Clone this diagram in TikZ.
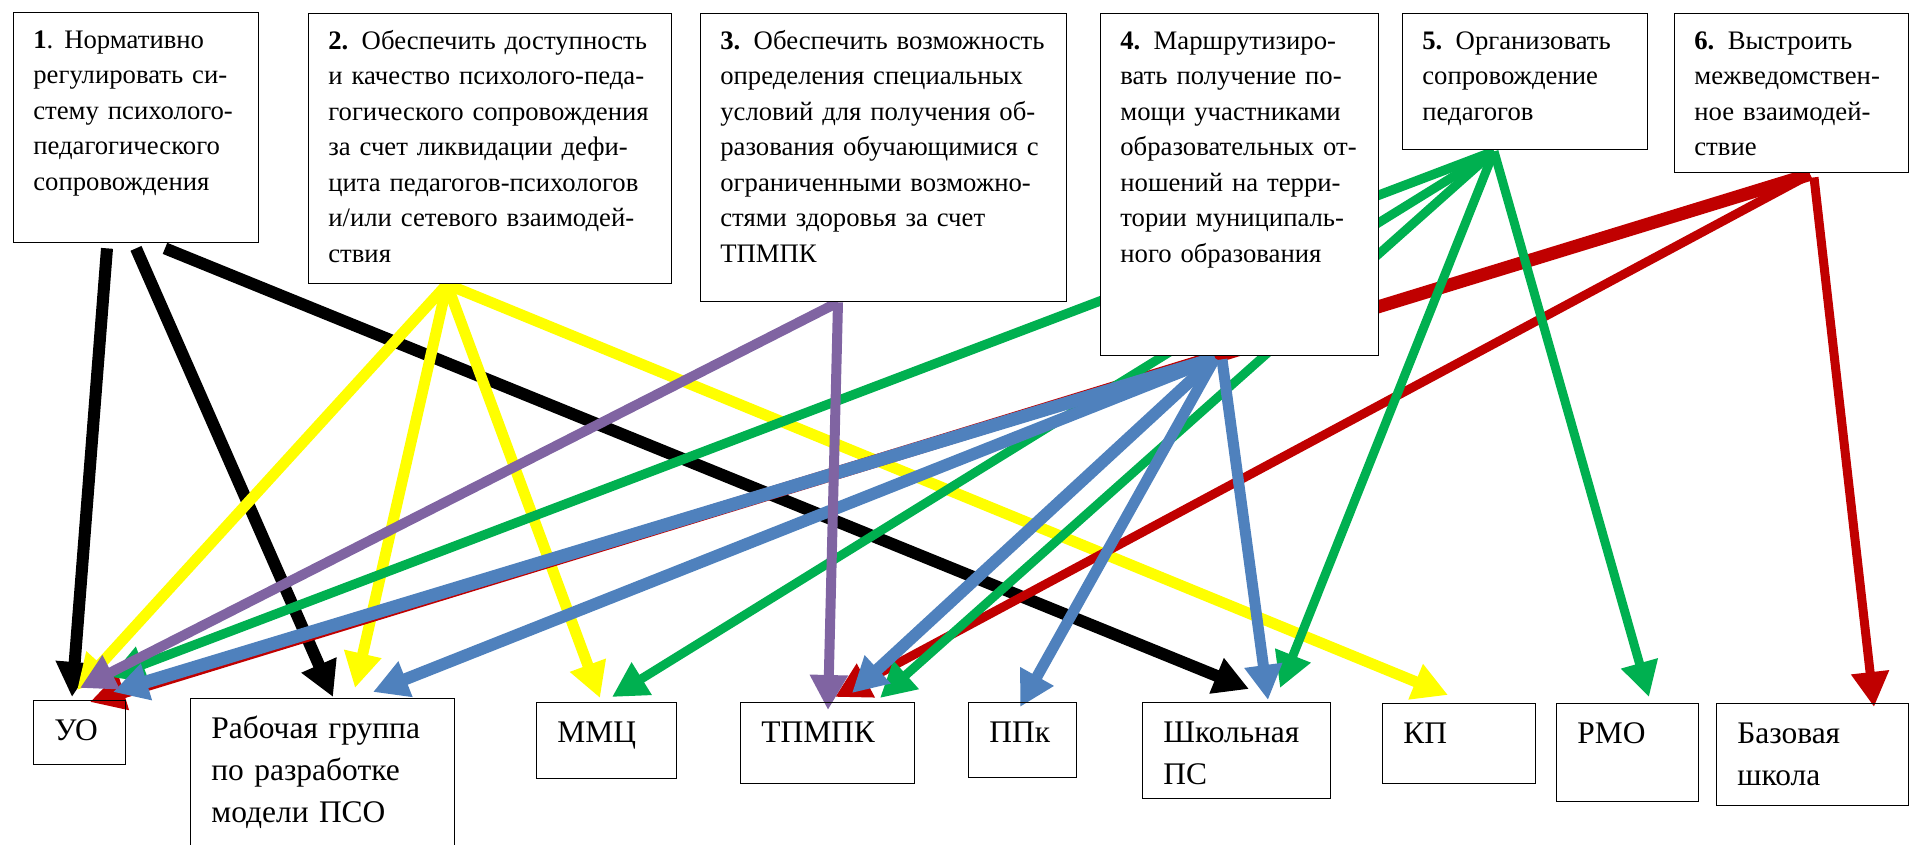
\documentclass[tikz,border=0pt]{standalone}
\usepackage{fontspec}
\setmainfont{Liberation Serif}
\usetikzlibrary{arrows.meta, calc, backgrounds}

\definecolor{arrYellow}{HTML}{FFFF00}
\definecolor{arrPurple}{HTML}{8064A2}
\definecolor{arrGreen}{HTML}{00B050}
\definecolor{arrRed}{HTML}{C00000}
\definecolor{arrBlue}{HTML}{4F81BD}

\newcommand{\goalfont}{\fontsize{15.2}{20.2}\selectfont}
\newcommand{\unitfont}{\fontsize{17.9}{23.9}\selectfont}

\tikzset{
  frame/.style={draw, line width=0.8pt, anchor=north west, inner sep=0pt},
  goal/.style={frame, fill=white},
  goaltext/.style={anchor=north west, align=left, text width=8cm, inner xsep=0.4cm,
    inner ysep=0pt, font=\goalfont, text height=0.72cm},
  unittext/.style={anchor=north west, align=left, text width=6cm, inner xsep=0.42cm,
    inner ysep=0pt, font=\unitfont, text height=0.8cm},
  link/.style={-{Triangle[length=0.7cm, width=0.72cm]}},
}

\begin{document}
\begin{tikzpicture}[x=0.02cm, y=-0.02cm]
  \useasboundingbox (0,0) rectangle (1910,845);

  % Goals (top row)
  \node[goal, minimum width=4.9cm, minimum height=4.6cm] (g1) at (13,12) {};
  \node[goaltext] (t1) at (g1.north west)
    {\textbf{1}.\hspace{0.22cm}Нормативно\\регулировать си-\\стему психолого-\\педагогического\\сопровождения};
  \node[goal, minimum width=7.26cm, minimum height=5.4cm] (g2) at (308,13) {};
  \node[goaltext] (t2) at (g2.north west)
    {\textbf{2.} Обеспечить доступность\\и качество психолого-педа-\\гогического сопровождения\\за счет ликвидации дефи-\\цита педагогов-психологов\\и/или сетевого взаимодей-\\ствия};
  \node[goal, minimum width=7.32cm, minimum height=5.76cm] (g3) at (700,13) {};
  \node[goaltext] (t3) at (g3.north west)
    {\textbf{3.} Обеспечить возможность\\определения специальных\\условий для получения об-\\разования обучающимися с\\ограниченными возможно-\\стями здоровья за счет\\ТПМПК};
  \node[goal, minimum width=5.56cm, minimum height=6.84cm] (g4) at (1100,13) {};
  \node[goaltext] (t4) at (g4.north west)
    {\textbf{4.} Маршрутизиро-\\вать получение по-\\мощи участниками\\образовательных от-\\ношений на терри-\\тории муниципаль-\\ного образования};
  \node[goal, minimum width=4.9cm, minimum height=2.72cm] (g5) at (1402,13) {};
  \node[goaltext] (t5) at (g5.north west)
    {\textbf{5.} Организовать\\сопровождение\\педагогов};
  \node[goal, minimum width=4.68cm, minimum height=3.18cm] (g6) at (1674,13) {};
  \node[goaltext] (t6) at (g6.north west)
    {\textbf{6.} Выстроить\\межведомствен-\\ное взаимодей-\\ствие};

  % Participants (bottom row)
  \node[frame, minimum width=1.84cm, minimum height=1.28cm] (uo) at (33,700) {};
  \node[unittext] (tuo) at (uo.north west) {УО};
  \node[frame, minimum width=5.28cm, minimum height=3.0cm] (wg) at (190,698) {};
  \node[unittext] (twg) at (wg.north west) {Рабочая группа\\по разработке\\модели ПСО};
  \node[frame, minimum width=2.8cm, minimum height=1.52cm] (mmc) at (536,702) {};
  \node[unittext] (tmmc) at (mmc.north west) {ММЦ};
  \node[frame, minimum width=3.48cm, minimum height=1.62cm] (tpmpk) at (740,702) {};
  \node[unittext] (ttpmpk) at (tpmpk.north west) {ТПМПК};
  \node[frame, minimum width=2.16cm, minimum height=1.5cm] (ppk) at (968,702) {};
  \node[unittext] (tppk) at (ppk.north west) {ППк};
  \node[frame, minimum width=3.76cm, minimum height=1.92cm] (sps) at (1142,702) {};
  \node[unittext] (tsps) at (sps.north west) {Школьная\\ПС};
  \node[frame, minimum width=3.06cm, minimum height=1.6cm] (kp) at (1382,703) {};
  \node[unittext] (tkp) at (kp.north west) {КП};
  \node[frame, minimum width=2.84cm, minimum height=1.96cm] (rmo) at (1556,703) {};
  \node[unittext] (trmo) at (rmo.north west) {РМО};
  \node[frame, minimum width=3.84cm, minimum height=2.04cm] (bsch) at (1716,703) {};
  \node[unittext] (tbsch) at (bsch.north west) {Базовая\\школа};

  \begin{pgfonlayer}{background}
    % Goal 1
    \draw[link, black, line width=0.24cm] ($(g1.south west)+(94,5)$) -- ($(uo.north west)+(39,-3)$);
    \draw[link, black, line width=0.24cm] ($(g1.south west)+(123,5)$) -- ($(wg.north west)+(143,-1)$);
    \draw[link, black, line width=0.24cm] ($(g1.south west)+(152,5)$) -- ($(sps.north west)+(107,-13)$);

    % Goal 2
    \draw[link, arrYellow, line width=0.22cm] ($(g2.south west)+(139,0)$) -- ($(uo.north west)+(44,-10)$);
    \draw[link, arrYellow, line width=0.22cm] ($(g2.south west)+(139,0)$) -- ($(wg.north west)+(165,-10)$);
    \draw[link, arrYellow, line width=0.22cm] ($(g2.south west)+(139,0)$) -- ($(mmc.north west)+(64,-4)$);
    \draw[link, arrYellow, line width=0.22cm] ($(g2.south west)+(139,0)$) -- ($(kp.north west)+(66,-8)$);

    % Goal 6
    \draw[link, arrRed, line width=0.26cm] ($(g6.south west)+(136,1)$) -- ($(uo.north west)+(57,2)$);
    \draw[link, arrRed, line width=0.18cm] ($(g6.south west)+(136,1)$) -- ($(tpmpk.north west)+(95,-5)$);
    \draw[link, arrRed, line width=0.18cm] ($(g6.south west)+(140,4)$) -- ($(bsch.north west)+(158,4)$);

    % Goal 5
    \draw[link, arrGreen, line width=0.19cm] ($(g5.south west)+(92,1)$) -- ($(uo.north west)+(77,-23)$);
    \draw[link, arrGreen, line width=0.18cm] ($(g5.south west)+(92,1)$) -- ($(mmc.north west)+(76,-5)$);
    \draw[link, arrGreen, line width=0.18cm] ($(g5.south west)+(92,1)$) -- ($(tpmpk.north west)+(140,-4)$);
    \draw[link, arrGreen, line width=0.18cm] ($(g5.south west)+(92,1)$) -- ($(sps.north west)+(138,-14)$);
    \draw[link, arrGreen, line width=0.18cm] ($(g5.south west)+(92,1)$) -- ($(rmo.north west)+(93,-6)$);

    % Goal 4
    \draw[link, arrBlue, line width=0.26cm] ($(g4.south west)+(115,2)$) -- ($(uo.north west)+(80,-8)$);
    \draw[link, arrBlue, line width=0.24cm] ($(g4.south west)+(115,2)$) -- ($(wg.north west)+(183,-6)$);
    \draw[link, arrBlue, line width=0.24cm] ($(g4.south west)+(115,2)$) -- ($(tpmpk.north west)+(112,-9)$);
    \draw[link, arrBlue, line width=0.22cm] ($(g4.south west)+(115,2)$) -- ($(ppk.north west)+(52,5)$);
    \draw[link, arrBlue, line width=0.22cm] ($(g4.south west)+(122,3)$) -- ($(sps.north west)+(126,-2)$);

    % Goal 3
    \draw[link, arrPurple, line width=0.2cm] ($(g3.south west)+(138,0)$) -- ($(uo.north west)+(47,-12)$);
    \draw[link, arrPurple, line width=0.2cm] ($(g3.south west)+(138,0)$) -- ($(tpmpk.north west)+(88,8)$);
  \end{pgfonlayer}
\end{tikzpicture}
\end{document}
